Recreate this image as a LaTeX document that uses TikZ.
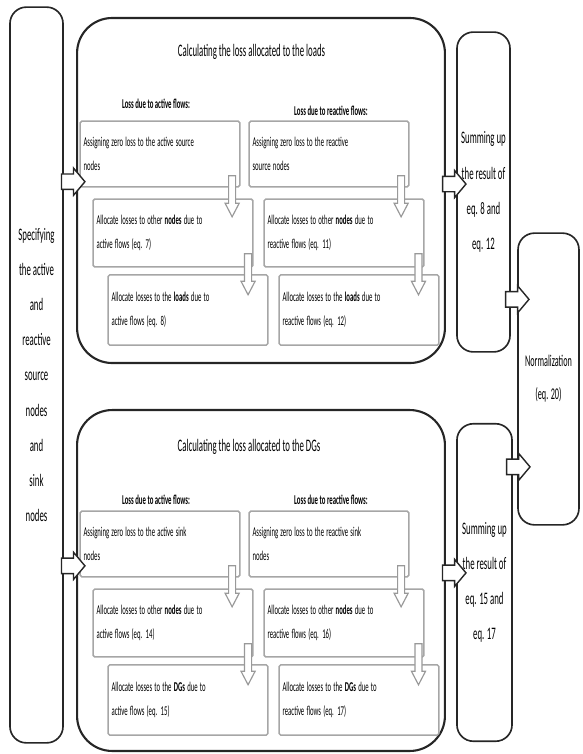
\documentclass[tikz,border=0pt]{standalone}
\usepackage{fontspec}
\setmainfont{Carlito}
\usetikzlibrary{shapes.arrows,positioning}

\begin{document}
\begin{tikzpicture}[
                x=0.03cm, y=-0.03cm,
                outer/.style={draw=black!85, line width=1.4pt, rounded corners=14pt, xscale=0.5, inner sep=0pt, align=center},
                group/.style={draw=black!85, line width=1.8pt, rounded corners=30pt, xscale=0.5, inner sep=0pt},
                stepbox/.style={draw=gray!70, line width=1.3pt, rounded corners=1.5pt, xscale=0.5, align=left, inner xsep=6pt, text width=261pt, minimum width=273pt, minimum height=56pt, font=\fontsize{11.5}{21}\selectfont},
                title/.style={xscale=0.5, font=\fontsize{15}{18}\selectfont},
                head/.style={xscale=0.5, font=\fontsize{11.5}{14}\selectfont\bfseries},
                rarrow/.style={single arrow, draw=black!85, fill=white, line width=1.2pt, text height=0pt, text depth=0pt, inner xsep=0pt, inner ysep=6pt, minimum height=20pt, single arrow head extend=5pt, single arrow tip angle=100},
                darrow/.style={single arrow, draw=gray!80, fill=white, line width=1pt, text height=0pt, text depth=0pt, inner xsep=0pt, inner ysep=2.5pt, minimum height=35pt, single arrow head extend=3pt, single arrow tip angle=55, rotate=-90}
            ]
                \useasboundingbox (0,0) rectangle (582,754);

                \node[outer, minimum width=90.5pt, minimum height=628pt, font=\fontsize{15}{30}\selectfont] (spec) at (36.5,375)
                    {Specifying\\the active\\and\\reactive\\source\\nodes\\and\\sink\\nodes};

                \node[group, minimum width=628pt, minimum height=294.5pt] (top) at (261,190.5) {};
                \node[title] (ttop) at (251.5,52) {Calculating the loss allocated to the loads};
                \node[head] (htA) at (156,104) {Loss due to active flows:};
                \node[head] (htR) at (331,111) {Loss due to reactive flows:};
                \node[stepbox] (tA1) at (160,154) {Assigning zero loss to the active source\\nodes};
                \node[stepbox] (tR1) at (329,154) {Assigning zero loss to the reactive\\source nodes};
                \node[stepbox, minimum height=58pt] (tA2) at (173,233) {Allocate losses to other \textbf{nodes} due to\\active flows (eq. 7)};
                \node[stepbox, minimum height=58pt] (tR2) at (344,233) {Allocate losses to other \textbf{nodes} due to\\reactive flows (eq. 11)};
                \node[stepbox, minimum height=60pt] (tA3) at (188,310) {Allocate losses to the \textbf{loads} due to\\active flows (eq. 8)};
                \node[stepbox, minimum height=60pt] (tR3) at (359,310) {Allocate losses to the \textbf{loads} due to\\reactive flows (eq. 12)};

                \node[group, minimum width=628pt, minimum height=291pt] (bot) at (261,580.5) {};
                \node[title] (tbot) at (249,447) {Calculating the loss allocated to the DGs};
                \node[head] (hbA) at (156,500) {Loss due to active flows:};
                \node[head] (hbR) at (331,500) {Loss due to reactive flows:};
                \node[stepbox] (bA1) at (160,544) {Assigning zero loss to the active sink\\nodes};
                \node[stepbox] (bR1) at (329,544) {Assigning zero loss to the reactive sink\\nodes};
                \node[stepbox, minimum height=58pt] (bA2) at (173,623) {Allocate losses to other \textbf{nodes} due to\\active flows (eq. 14)};
                \node[stepbox, minimum height=58pt] (bR2) at (344,623) {Allocate losses to other \textbf{nodes} due to\\reactive flows (eq. 16)};
                \node[stepbox, minimum height=60pt] (bA3) at (188,700) {Allocate losses to the \textbf{DGs} due to\\active flows (eq. 15)};
                \node[stepbox, minimum height=60pt] (bR3) at (359,700) {Allocate losses to the \textbf{DGs} due to\\reactive flows (eq. 17)};

                \node[outer, minimum width=90.5pt, minimum height=273pt, font=\fontsize{15}{30}\selectfont] (sumt) at (483.5,192)
                    {Summing up\\the result of\\eq. 8 and\\eq. 12};
                \node[outer, minimum width=94pt, minimum height=271pt, font=\fontsize{15}{30}\selectfont] (sumb) at (484.5,582.5)
                    {Summing up\\the result of\\eq. 15 and\\eq. 17};
                \node[outer, minimum width=104pt, minimum height=249pt, font=\fontsize{14}{28}\selectfont] (norm) at (548.5,379)
                    {Normalization\\(eq. 20)};

                \path ([xshift=-7pt]tA1.south east) -- node[darrow] {} ([xshift=-7pt]tA1.south east |- tA2.north);
                \path ([xshift=-7pt]tR1.south east) -- node[darrow] {} ([xshift=-7pt]tR1.south east |- tR2.north);
                \path ([xshift=-4.5pt]tA2.south east) -- node[darrow] {} ([xshift=-4.5pt]tA2.south east |- tA3.north);
                \path ([xshift=-5pt]tR2.south east) -- node[darrow] {} ([xshift=-5pt]tR2.south east |- tR3.north);
                \path ([xshift=-7pt]bA1.south east) -- node[darrow] {} ([xshift=-7pt]bA1.south east |- bA2.north);
                \path ([xshift=-7pt]bR1.south east) -- node[darrow] {} ([xshift=-7pt]bR1.south east |- bR2.north);
                \path ([xshift=-4.5pt]bA2.south east) -- node[darrow] {} ([xshift=-4.5pt]bA2.south east |- bA3.north);
                \path ([xshift=-5pt]bR2.south east) -- node[darrow] {} ([xshift=-5pt]bR2.south east |- bR3.north);

                \path (spec.east |- tA1.south) -- node[rarrow, yshift=5pt] {} (top.west |- tA1.south);
                \path (spec.east |- bA1.south) -- node[rarrow, yshift=10pt] {} (bot.west |- bA1.south);
                \path (top.east |- tA1.south) -- node[rarrow, yshift=3pt] {} (sumt.west |- tA1.south);
                \path (bot.east |- bA1.south) -- node[rarrow, yshift=4pt] {} (sumb.west |- bA1.south);
                \path (sumt.east |- norm.west) -- node[rarrow, yshift=68pt] {} (norm.west);
                \path (sumb.east |- norm.west) -- node[rarrow, yshift=-75pt] {} (norm.west);
            \end{tikzpicture}
\end{document}
